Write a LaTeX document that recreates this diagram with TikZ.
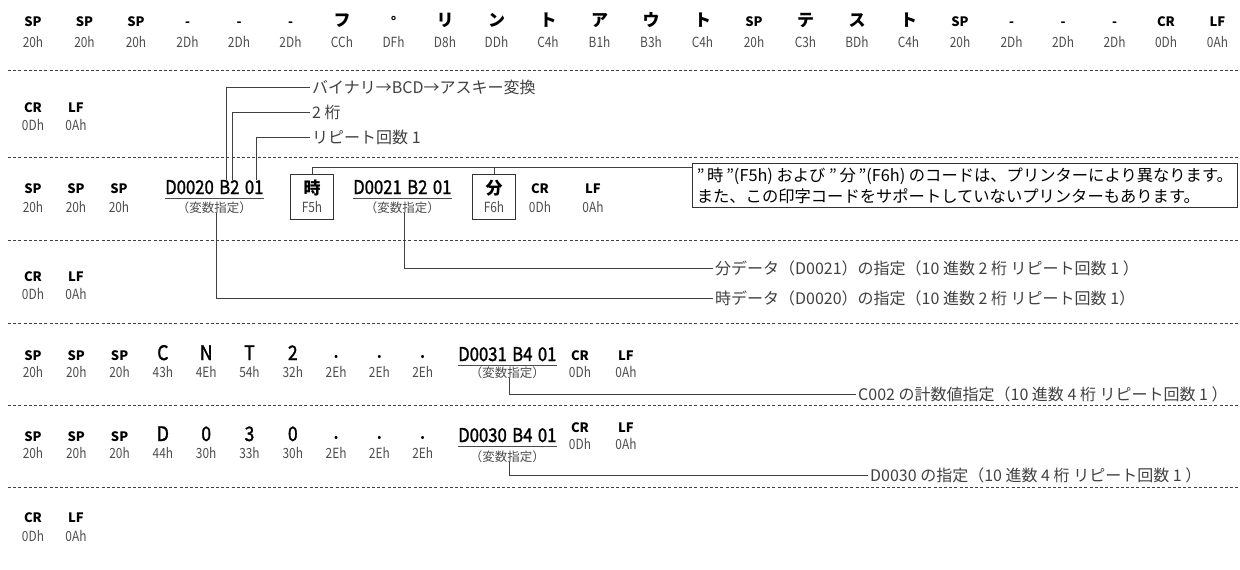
\documentclass[tikz,border=0pt]{standalone}
\usepackage{fontspec}
\setmainfont{Noto Sans CJK JP}
\newfontfamily\narrowfont{Noto Sans CJK JP}[FakeStretch=0.85]
\newfontfamily\medfont{Noto Sans CJK JP}[FakeStretch=0.88, FakeBold=1.4]
\usepackage{tikz}
\usetikzlibrary{positioning, calc}

\begin{document}
\begin{tikzpicture}[x=1pt, y=-1pt,
        sym/.style={font=\bfseries\fontsize{13}{13}\selectfont, inner sep=0pt},
        kana/.style={font=\bfseries\fontsize{17}{17}\selectfont, inner sep=0pt},
        chr/.style={font=\medfont\fontsize{20}{20}\selectfont, inner sep=0pt},
        pt/.style={font=\fontsize{12}{12}\selectfont, inner sep=0pt},
        hex/.style={font=\narrowfont\fontsize{14}{14}\selectfont, text=black!70, inner sep=0pt},
        var/.style={font=\medfont\fontsize{19}{19}\selectfont, inner sep=0pt, anchor=base west},
        kvar/.style={font=\fontsize{12.5}{12.5}\selectfont, text=black!70, inner sep=0pt, anchor=base},
        cbox/.style={draw=black!80, line width=0.8pt, minimum width=43pt,
                    minimum height=45pt, inner sep=0pt},
        note/.style={draw=black!80, line width=0.8pt, font=\fontsize{16.3}{21}\selectfont,
                    align=left, inner sep=4pt, anchor=north west, minimum width=545pt},
        ann/.style={font=\fontsize{16}{16}\selectfont, text=black!75, anchor=west, inner sep=2pt},
        lead/.style={draw=black!75, line width=0.8pt},
        sepline/.style={draw=black!75, line width=1pt, dash pattern=on 3pt off 2.2pt},
        uline/.style={draw=black!70, line width=0.9pt}
    ]
        \useasboundingbox (0,0) rectangle (1240,570);

        % separators
        \foreach \y in {70,157,240,323,405,487}
            \draw[sepline] (8,\y) -- (1240,\y);

        % row 1
        \foreach \t/\h/\s [count=\i from 0] in {SP/20h/sym, SP/20h/sym, SP/20h/sym,
                -/2Dh/sym, -/2Dh/sym, -/2Dh/sym, フ/CCh/kana, °/DFh/sym, リ/D8h/kana,
                ン/DDh/kana, ト/C4h/kana, ア/B1h/kana, ウ/B3h/kana, ト/C4h/kana,
                SP/20h/sym, テ/C3h/kana, ス/BDh/kana, ト/C4h/kana, SP/20h/sym,
                -/2Dh/sym, -/2Dh/sym, -/2Dh/sym, CR/0Dh/sym, LF/0Ah/sym} {
            \node[\s, anchor=base] (t1-\i) at (33+51.5*\i, 27) {\t};
            \node[hex, anchor=base] (h1-\i) at (33+51.5*\i, 47) {\h};
        }

        % row 2
        \node[sym, anchor=base] (t2-0) at (33,112) {CR};
        \node[hex, anchor=base] (h2-0) at (33,130) {0Dh};
        \node[sym, anchor=base] (t2-1) at (76,112) {LF};
        \node[hex, anchor=base] (h2-1) at (76,130) {0Ah};

        % row 3
        \foreach \x [count=\i from 0] in {33,76,119} {
            \node[sym, anchor=base] (t3-\i) at (\x,193) {SP};
            \node[hex, anchor=base] (h3-\i) at (\x,212) {20h};
        }
        \node[var] (v20a) at (165,194) {D0020};
        \node[var] (v20b) at ([xshift=5pt]v20a.base east) {B2};
        \node[var] (v20c) at ([xshift=5pt]v20b.base east) {01};
        \draw[uline] ([yshift=-4pt]v20a.base west) -- ([yshift=-4pt]v20c.base east);
        \node[kvar] (k20) at ($(v20a.base west)!0.5!(v20c.base east)+(0,18)$) {（変数指定）};

        \node[cbox] (jibox) at (312,197) {};
        \node[kana, anchor=base] (ji) at (312,194) {時};
        \node[hex, anchor=base] (jih) at (312,212) {F5h};

        \node[var] (v21a) at (353,194) {D0021};
        \node[var] (v21b) at ([xshift=5pt]v21a.base east) {B2};
        \node[var] (v21c) at ([xshift=5pt]v21b.base east) {01};
        \draw[uline] ([yshift=-4pt]v21a.base west) -- ([yshift=-4pt]v21c.base east);
        \node[kvar] (k21) at ($(v21a.base west)!0.5!(v21c.base east)+(0,18)$) {（変数指定）};

        \node[cbox] (funbox) at (494,197) {};
        \node[kana, anchor=base] (fun) at (494,194) {分};
        \node[hex, anchor=base] (funh) at (494,212) {F6h};

        \node[sym, anchor=base] (t3-3) at (540,193) {CR};
        \node[hex, anchor=base] (h3-3) at (540,212) {0Dh};
        \node[sym, anchor=base] (t3-4) at (593,193) {LF};
        \node[hex, anchor=base] (h3-4) at (593,212) {0Ah};

        \node[note] (note) at (692,163)
            {\char34\,時\,\char34(F5h) および \char34\,分\,\char34(F6h) のコードは、プリンターにより異なります。\\
             また、この印字コードをサポートしていないプリンターもあります。};
        \coordinate (notein) at ([yshift=-4pt]note.north west);
        \draw[lead] (jibox.north) |- (notein);
        \draw[lead] (funbox.north) -- (funbox.north |- notein);

        % conversion notes
        \node[ann] (lbconv) at (310,87) {バイナリ→BCD→アスキー変換};
        \node[ann] (lbdig) at (310,112) {2 桁};
        \node[ann] (lbrep) at (310,137) {リピート回数 1};
        \draw[lead] ([xshift=-3pt]v20b.north) |- (lbconv.west);
        \draw[lead] ([xshift=3pt]v20b.north) |- (lbdig.west);
        \draw[lead] ([xshift=2pt]v20c.north) |- (lbrep.west);

        % row 4
        \node[sym, anchor=base] (t4-0) at (33,281) {CR};
        \node[hex, anchor=base] (h4-0) at (33,299) {0Dh};
        \node[sym, anchor=base] (t4-1) at (76,281) {LF};
        \node[hex, anchor=base] (h4-1) at (76,299) {0Ah};

        \node[ann] (lbfun) at (713,268) {分データ（D0021）の指定（10 進数 2 桁 リピート回数 1 ）};
        \node[ann] (lbji) at (713,298) {時データ（D0020）の指定（10 進数 2 桁 リピート回数 1）};
        \draw[lead] ([xshift=2pt]k21.south) |- (lbfun.west);
        \draw[lead] ([xshift=2pt]k20.south) |- (lbji.west);

        % row 5
        \foreach \t/\h/\s [count=\i from 0] in {SP/20h/sym, SP/20h/sym, SP/20h/sym,
                C/43h/chr, N/4Eh/chr, T/54h/chr, 2/32h/chr, •/2Eh/pt, •/2Eh/pt, •/2Eh/pt} {
            \node[\s, anchor=base] (t5-\i) at (33+43.3*\i, 360) {\t};
            \node[hex, anchor=base] (h5-\i) at (33+43.3*\i, 377) {\h};
        }
        \node[var] (v31a) at (458,361) {D0031};
        \node[var] (v31b) at ([xshift=5pt]v31a.base east) {B4};
        \node[var] (v31c) at ([xshift=5pt]v31b.base east) {01};
        \draw[uline] ([yshift=-4pt]v31a.base west) -- ([yshift=-4pt]v31c.base east);
        \node[kvar] (k31) at ($(v31a.base west)!0.5!(v31c.base east)+(0,16)$) {（変数指定）};
        \node[sym, anchor=base] (t5-10) at (580,360) {CR};
        \node[hex, anchor=base] (h5-10) at (580,377) {0Dh};
        \node[sym, anchor=base] (t5-11) at (626,360) {LF};
        \node[hex, anchor=base] (h5-11) at (626,377) {0Ah};

        \node[ann] (lbcnt) at (856,394) {C002 の計数値指定（10 進数 4 桁 リピート回数 1 ）};
        \draw[lead] ([xshift=2pt]k31.south) |- (lbcnt.west);

        % row 6
        \foreach \t/\h/\s [count=\i from 0] in {SP/20h/sym, SP/20h/sym, SP/20h/sym,
                D/44h/chr, 0/30h/chr, 3/33h/chr, 0/30h/chr, •/2Eh/pt, •/2Eh/pt, •/2Eh/pt} {
            \node[\s, anchor=base] (t6-\i) at (33+43.3*\i, 441) {\t};
            \node[hex, anchor=base] (h6-\i) at (33+43.3*\i, 458) {\h};
        }
        \node[var] (v30a) at (458,442) {D0030};
        \node[var] (v30b) at ([xshift=5pt]v30a.base east) {B4};
        \node[var] (v30c) at ([xshift=5pt]v30b.base east) {01};
        \draw[uline] ([yshift=-4pt]v30a.base west) -- ([yshift=-4pt]v30c.base east);
        \node[kvar] (k30) at ($(v30a.base west)!0.5!(v30c.base east)+(0,19)$) {（変数指定）};
        \node[sym, anchor=base] (t6-10) at (580,432) {CR};
        \node[hex, anchor=base] (h6-10) at (580,449) {0Dh};
        \node[sym, anchor=base] (t6-11) at (626,432) {LF};
        \node[hex, anchor=base] (h6-11) at (626,449) {0Ah};

        \node[ann] (lbd30) at (868,475) {D0030 の指定（10 進数 4 桁 リピート回数 1 ）};
        \draw[lead] ([xshift=2pt]k30.south) |- (lbd30.west);

        % row 7
        \node[sym, anchor=base] (t7-0) at (33,522) {CR};
        \node[hex, anchor=base] (h7-0) at (33,541) {0Dh};
        \node[sym, anchor=base] (t7-1) at (76,522) {LF};
        \node[hex, anchor=base] (h7-1) at (76,541) {0Ah};
    \end{tikzpicture}
\end{document}
